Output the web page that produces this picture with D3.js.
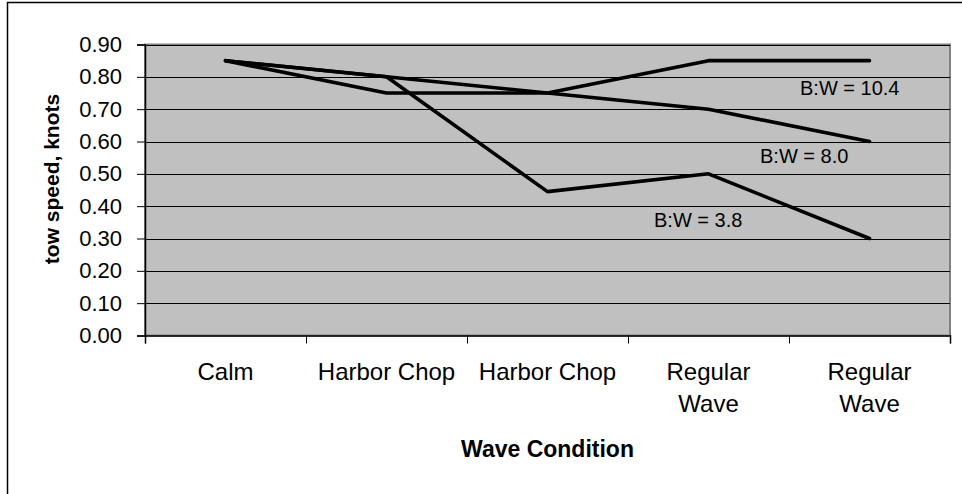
<!DOCTYPE html>
<html>
<head>
<meta charset="utf-8">
<script src="https://cdn.jsdelivr.net/npm/d3@7"></script>
<style>
  html, body { margin: 0; padding: 0; background: #fff; }
  svg { display: block; font-family: "Liberation Sans", Arial, sans-serif; }
</style>
</head>
<body>
<svg id="chart" width="962" height="494"></svg>
<script>
// ---- data ----
const categories = [["Calm"], ["Harbor Chop"], ["Harbor Chop"], ["Regular", "Wave"], ["Regular", "Wave"]];
const seriesNames = ["B:W = 10.4", "B:W = 8.0", "B:W = 3.8"];
const bw104 = [0.85, 0.75, 0.75, 0.85, 0.85];
const bw80  = [0.85, 0.80, 0.75, 0.70, 0.60];
const bw38  = [0.85, 0.80, 0.445, 0.50, 0.30];
const yTicks = [0, 0.1, 0.2, 0.3, 0.4, 0.5, 0.6, 0.7, 0.8, 0.9];
const xTitle = "Wave Condition";
const yTitle = "tow speed, knots";

// ---- layout ----
const svg = d3.select("#chart");
const plot = { left: 145, right: 950, top: 44.5, bottom: 335.5 };

// outer chart border (extends past right/bottom edges)
svg.append("rect")
  .attr("x", 7.5).attr("y", 2.5)
  .attr("width", 1000).attr("height", 600)
  .attr("fill", "#fff").attr("stroke", "#000").attr("stroke-width", 1.5);

const x = d3.scaleBand().domain(d3.range(categories.length))
  .range([plot.left, plot.right]).paddingInner(0).paddingOuter(0);
const y = d3.scaleLinear().domain([0, 0.9]).range([plot.bottom, plot.top]);

// plot area background
svg.append("rect")
  .attr("x", plot.left).attr("y", plot.top)
  .attr("width", plot.right - plot.left).attr("height", plot.bottom - plot.top)
  .attr("fill", "#c0c0c0").attr("stroke", "#808080").attr("stroke-width", 2);

// gridlines
svg.append("g").selectAll("line").data(yTicks.filter(d => d > 0)).join("line")
  .attr("x1", plot.left).attr("x2", plot.right)
  .attr("y1", d => Math.round(y(d)) + 0.5).attr("y2", d => Math.round(y(d)) + 0.5)
  .attr("stroke", "#000").attr("stroke-width", 1);

// y axis
const yAxis = d3.axisLeft(y).tickValues(yTicks).tickFormat(d3.format(".2f")).tickSize(8).tickPadding(15);
const gy = svg.append("g").attr("transform", `translate(${plot.left},0)`).call(yAxis);
gy.select(".domain").attr("stroke", "#000").attr("stroke-width", 1.5);
gy.selectAll(".tick line").attr("stroke", "#000");
gy.selectAll(".tick text").attr("font-size", 22).attr("fill", "#000")
  .attr("font-family", "Liberation Sans, Arial, sans-serif");

// x axis (ticks at category boundaries)
const xLin = d3.scaleLinear().domain([0, categories.length]).range([plot.left, plot.right]);
const gx = svg.append("g").attr("transform", `translate(0,${plot.bottom})`)
  .call(d3.axisBottom(xLin).tickValues(d3.range(categories.length + 1)).tickSize(8).tickFormat(""));
gx.select(".domain").attr("stroke", "#000").attr("stroke-width", 1.5);
gx.selectAll(".tick line").attr("stroke", "#000");

// category labels
const catG = svg.append("g");
categories.forEach((lines, i) => {
  const t = catG.append("text")
    .attr("x", x(i) + x.bandwidth() / 2).attr("y", 380)
    .attr("text-anchor", "middle").attr("font-size", 24).attr("fill", "#000");
  lines.forEach((ln, j) => {
    t.append("tspan").attr("x", x(i) + x.bandwidth() / 2).attr("dy", j === 0 ? 0 : 32).text(ln);
  });
});

// axis titles
svg.append("text").attr("x", (plot.left + plot.right) / 2).attr("y", 457)
  .attr("text-anchor", "middle").attr("font-size", 23).attr("font-weight", "bold").text(xTitle);
svg.append("text").attr("transform", `translate(59,${179}) rotate(-90)`)
  .attr("text-anchor", "middle").attr("font-size", 21).attr("font-weight", "bold").text(yTitle);

// lines
const line = d3.line().x((d, i) => x(i) + x.bandwidth() / 2).y(d => y(d));
[bw38, bw80, bw104].forEach(s => {
  svg.append("path").datum(s).attr("d", line)
    .attr("fill", "none").attr("stroke", "#000").attr("stroke-width", 3.6)
    .attr("stroke-linejoin", "round").attr("stroke-linecap", "round");
});

// series labels
const labelPos = [
  { name: seriesNames[0], x: 800, y: 95 },
  { name: seriesNames[1], x: 760, y: 162.5 },
  { name: seriesNames[2], x: 654, y: 226.5 }
];
svg.append("g").selectAll("text").data(labelPos).join("text")
  .attr("x", d => d.x).attr("y", d => d.y).attr("font-size", 20).attr("fill", "#000")
  .text(d => d.name);
</script>
</body>
</html>
